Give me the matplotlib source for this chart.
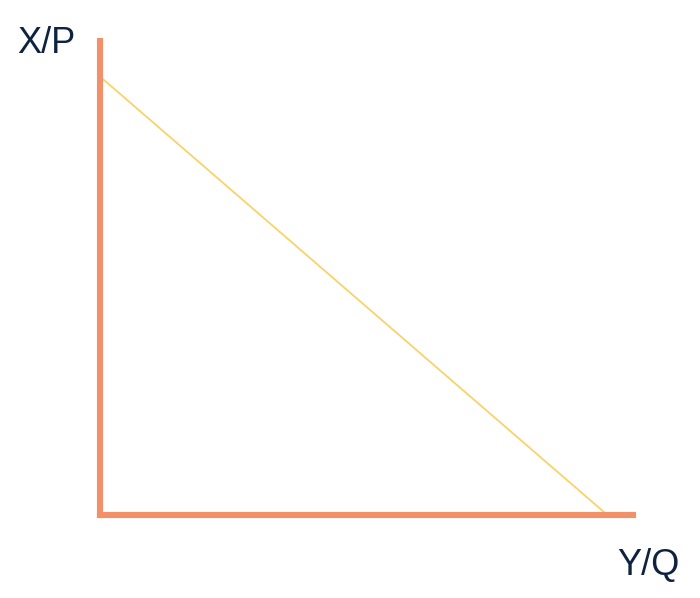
import matplotlib
matplotlib.use('Agg')
import matplotlib.pyplot as plt

# demand-style line: intercepts on the two axes
line_x = [0, 9.52]
line_y = [9.25, 0]
x_label = 'Y/Q'
y_label = 'X/P'

axis_color = '#F2906A'
line_color = '#F7D36A'
text_color = '#0F2340'

plt.rcParams['font.family'] = ['Liberation Sans', 'DejaVu Sans']

fig = plt.figure(figsize=(7, 5.98), dpi=100)
ax = fig.add_axes([100 / 700, 83 / 598, 533 / 700, 474 / 598])

ax.plot(line_x, line_y, color=line_color, linewidth=1.3, solid_capstyle='butt')
ax.set_xlim(0, 10)
ax.set_ylim(0, 10)

for side in ['top', 'right']:
    ax.spines[side].set_visible(False)
for side in ['left', 'bottom']:
    ax.spines[side].set_color(axis_color)
    ax.spines[side].set_linewidth(4.4)
ax.set_xticks([])
ax.set_yticks([])

fig.text(17 / 700, 1 - 53 / 598, y_label, fontsize=26, color=text_color)
fig.text(617 / 700, 1 - 575 / 598, x_label, fontsize=26, color=text_color)

plt.savefig('out.png', dpi=100)
